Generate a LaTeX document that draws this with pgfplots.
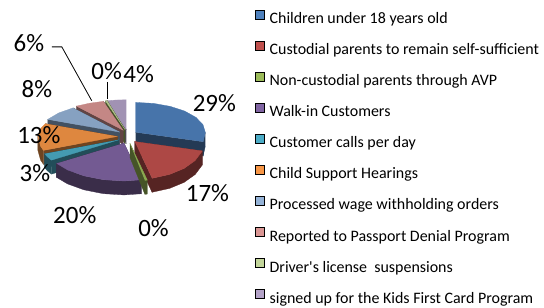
\documentclass[border=0pt]{standalone}
\usepackage{fontspec}
\setmainfont{Carlito}[Ligatures=TeXOff]
\usepackage{pgfplots}
\pgfplotsset{compat=1.18}
\definecolor{cA}{HTML}{4F81BD}
\definecolor{cB}{HTML}{C0504D}
\definecolor{cC}{HTML}{9BBB59}
\definecolor{cD}{HTML}{8064A2}
\definecolor{cE}{HTML}{4BACC6}
\definecolor{cF}{HTML}{F79646}
\definecolor{cG}{HTML}{95B3D7}
\definecolor{cH}{HTML}{DA9694}
\definecolor{cI}{HTML}{C3D69B}
\definecolor{cJ}{HTML}{B3A2C7}
\pgfplotsset{
  /pgfplots/area legend/.style={legend image code/.code={\fill[##1] (0bp,1.6bp) rectangle (9bp,10bp);}},
  top/.style={fill=#1!90!black, draw=#1!90!black, line width=0.3bp, forget plot},
  side/.style={fill=#1!45!black, draw=#1!45!black, line width=0.3bp, forget plot},
}
\newcommand{\lbl}{\fontsize{25bp}{30bp}\selectfont}
\begin{document}
\begin{tikzpicture}
\begin{axis}[
  at={(0,0)}, anchor=south west,
  width=544bp, height=308bp, scale only axis,
  xmin=0, xmax=544, ymin=0, ymax=308, y dir=reverse,
  hide axis, clip=false,
  legend cell align=left,
  legend style={at={(axis cs:256,10.3)}, anchor=north west, draw=none, fill=none,
    inner sep=0pt, outer sep=0pt, row sep=13.4bp,
    font=\fontsize{16bp}{19bp}\selectfont,
    nodes={inner xsep=5bp, inner ysep=0pt, text height=11bp, text depth=4bp}},
]
% legend
\addlegendimage{area legend, fill=cA}\addlegendentry{Children under 18 years old}
\addlegendimage{area legend, fill=cB}\addlegendentry{Custodial parents to remain self-sufficient}
\addlegendimage{area legend, fill=cC}\addlegendentry{Non-custodial parents through AVP}
\addlegendimage{area legend, fill=cD}\addlegendentry{Walk-in Customers}
\addlegendimage{area legend, fill=cE}\addlegendentry{Customer calls per day}
\addlegendimage{area legend, fill=cF}\addlegendentry{Child Support Hearings}
\addlegendimage{area legend, fill=cG}\addlegendentry{Processed wage withholding orders}
\addlegendimage{area legend, fill=cH}\addlegendentry{Reported to Passport Denial Program}
\addlegendimage{area legend, fill=cI}\addlegendentry{Driver's license\ \ suspensions}
\addlegendimage{area legend, fill=cJ}\addlegendentry{signed up for the Kids First Card Program}

% Lavender 4% (345.6-360)
\addplot[side=cJ] coordinates {(126.8,130.1)(106.9,101.0)(106.9,115.0)(126.8,144.1)};
\addplot[top=cJ] coordinates {(126.8,130.1)(106.9,101.0)(117.0,100.3)(126.8,100.1)};
% Light green 0% (345.6)
\addplot[side=cC] coordinates {(125.6,130.2)(105.7,101.1)(105.7,115.1)(125.6,144.2)};
\addplot[side=cC] coordinates {(125.6,130.2)(107.6,101.0)(107.6,115.0)(125.6,144.2)};
\addplot[top=cI] coordinates {(125.6,130.2)(105.7,101.1)(107.6,101.0)};
% Pink 6% (324-345.6)
\addplot[side=cH] coordinates {(123.7,130.7)(76.7,106.4)(76.7,120.4)(123.7,144.7)};
\addplot[side=cH] coordinates {(123.7,130.7)(103.8,101.6)(103.8,115.6)(123.7,144.7)};
\addplot[top=cH] coordinates {(123.7,130.7)(76.7,106.4)(89.9,103.5)(103.8,101.6)};
% Light blue 8% (295.2-324)
\addplot[side=cG] coordinates {(120.3,132.5)(47.9,119.7)(47.9,133.7)(120.3,146.5)};
\addplot[side=cG] coordinates {(120.3,132.5)(73.3,108.2)(73.3,122.2)(120.3,146.5)};
\addplot[top=cG] coordinates {(120.3,132.5)(47.9,119.7)(59.0,113.2)(73.3,108.2)};
% Blue 29% (0-104.4)
\addplot[side=cA] coordinates {(135.9,132.7)(203.7,142.2)(203.7,156.2)(135.9,146.7)};
\addplot[side=cA] coordinates {(205.9,132.7)(203.7,142.2)(203.7,156.2)(205.9,146.7)};
\addplot[top=cA] coordinates {(135.9,132.7)(135.9,102.7)(154.0,103.7)(170.9,106.7)(185.4,111.5)(196.5,117.7)(203.5,124.9)(205.9,132.7)(203.7,142.2)};
% Orange 13% (248.4-295.2)
\addplot[side=cF] coordinates {(118.0,136.8)(43.6,150.8)(43.6,164.8)(118.0,150.8)};
\addplot[side=cF] coordinates {(118.0,136.8)(45.6,124.0)(45.6,138.0)(118.0,150.8)};
\addplot[side=cF] coordinates {(43.6,150.8)(40.7,146.6)(38.0,136.8)(38.0,150.8)(40.7,160.6)(43.6,164.8)};
\addplot[top=cF] coordinates {(118.0,136.8)(43.6,150.8)(40.7,146.6)(38.0,136.8)(40.7,129.0)(45.6,124.0)};
% Teal 3% (237.6-248.4)
\addplot[side=cE] coordinates {(119.1,140.2)(51.6,160.6)(51.6,174.6)(119.1,154.2)};
\addplot[side=cE] coordinates {(119.1,140.2)(44.7,154.2)(44.7,168.2)(119.1,154.2)};
\addplot[side=cE] coordinates {(51.6,160.6)(47.8,157.5)(44.7,154.2)(44.7,168.2)(47.8,171.5)(51.6,174.6)};
\addplot[top=cE] coordinates {(119.1,140.2)(51.6,160.6)(47.8,157.5)(44.7,154.2)};
% Red 17% (104.4-165.6)
\addplot[side=cB] coordinates {(135.1,142.0)(202.9,151.4)(202.9,165.4)(135.1,156.0)};
\addplot[side=cB] coordinates {(135.1,142.0)(152.5,178.8)(152.5,192.8)(135.1,156.0)};
\addplot[side=cB] coordinates {(202.9,151.4)(195.7,161.0)(184.6,168.9)(170.1,174.9)(152.5,178.8)(152.5,192.8)(170.1,188.9)(184.6,182.9)(195.7,175.0)(202.9,165.4)};
\addplot[top=cB] coordinates {(135.1,142.0)(202.9,151.4)(195.7,161.0)(184.6,168.9)(170.1,174.9)(152.5,178.8)};
% Purple 20% (165.6-237.6)
\addplot[side=cD] coordinates {(124.3,143.5)(141.7,180.3)(141.7,194.3)(124.3,157.5)};
\addplot[side=cD] coordinates {(124.3,143.5)(56.8,163.9)(56.8,177.9)(124.3,157.5)};
\addplot[side=cD] coordinates {(141.7,180.3)(124.3,181.5)(103.6,180.2)(84.3,176.4)(67.7,170.4)(56.8,163.9)(56.8,177.9)(67.7,184.4)(84.3,190.4)(103.6,194.2)(124.3,195.5)(141.7,194.3)};
\addplot[top=cD] coordinates {(124.3,143.5)(141.7,180.3)(124.3,181.5)(103.6,180.2)(84.3,176.4)(67.7,170.4)(56.8,163.9)};
% Green 0% (165.6)
\addplot[side=cC] coordinates {(130.3,143.8)(147.7,180.6)(147.7,194.6)(145.3,194.9)(130.3,157.8)};
\addplot[top=cC] coordinates {(130.3,143.8)(147.7,180.6)(145.3,180.9)};

% leader lines
\addplot[black, line width=0.8bp, forget plot] coordinates {(52,47)(62,47)(92,101)};
\addplot[black, line width=0.8bp, forget plot] coordinates {(108,82)(108,99)};

% labels
\node[font=\lbl] at (axis cs:215,103) {29\%};
\node[font=\lbl] at (axis cs:208,194) {17\%};
\node[font=\lbl] at (axis cs:154,229) {0\%};
\node[font=\lbl] at (axis cs:75,216) {20\%};
\node[font=\lbl] at (axis cs:35,174) {3\%};
\node[font=\lbl] at (axis cs:39,135) {13\%};
\node[font=\lbl] at (axis cs:37,89) {8\%};
\node[font=\lbl] at (axis cs:29,43) {6\%};
\node[font=\lbl] at (axis cs:107,71) {0\%};
\node[font=\lbl] at (axis cs:139,74) {4\%};
\end{axis}
\path (0,0) rectangle (544bp,308bp);
\end{tikzpicture}
\end{document}
